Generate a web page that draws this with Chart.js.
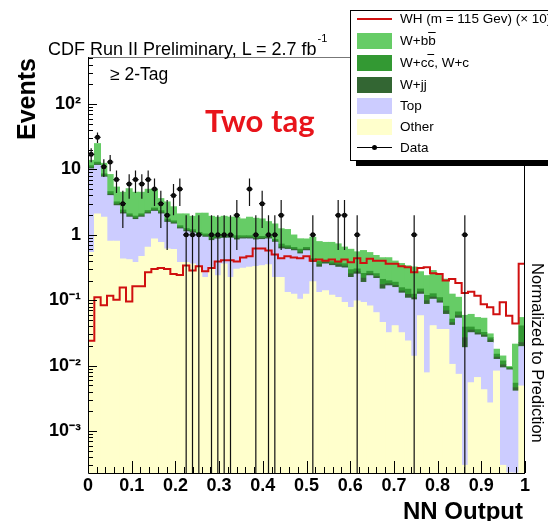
<!DOCTYPE html>
<html>
<head>
<meta charset="utf-8">
<title>NN Output - Two tag</title>
<script src="https://cdn.jsdelivr.net/npm/chart.js@4.4.1/dist/chart.umd.min.js"></script>
<style>
  html, body { margin: 0; padding: 0; background: #fff; }
  #page { position: relative; width: 548px; height: 521px; overflow: hidden;
          font-family: "Liberation Sans", Arial, sans-serif; color: #000; }
  #nnChart { position: absolute; left: 0; top: 0; }
  .txt { position: absolute; white-space: nowrap; line-height: 1; }
  #cdfTitle { left: 48px; top: 33px; font-size: 18px; }
  #cdfTitle .sup { font-size: 11px; vertical-align: 13px; margin-left: 1px; }
  #tagLabel { left: 110px; top: 66px; font-size: 17.5px; }
  #twoTag { left: 205px; top: 105px; font-family: Lato, "Open Sans", sans-serif; font-weight: bold;
            font-size: 31px; color: #e8141b; }
  #yTitle { left: 14px; top: 140px; font-size: 25px; font-weight: bold;
            transform: rotate(-90deg); transform-origin: 0 0; }
  #xTitle { right: 25px; top: 499px; font-size: 24px; font-weight: bold; }
  #normLabel { left: 546px; top: 263px; font-size: 16.5px;
               transform: rotate(90deg); transform-origin: 0 0; }
  #legend { position: absolute; left: 350px; top: 10px; width: 220px; height: 149px;
            border: 1px solid #000; background: #fff; box-shadow: 6px 5px 0 0 #000; }
  #legend .sw { position: absolute; left: 6px; width: 35px; height: 16px; }
  #legend .lab { position: absolute; left: 49px; font-size: 13.5px; line-height: 16px; white-space: nowrap; }
  .ov { text-decoration: overline; }
</style>
</head>
<body>
<div id="page">
  <canvas id="nnChart" width="548" height="521"></canvas>
  <div class="txt" id="cdfTitle">CDF Run II Preliminary, L = 2.7 fb<span class="sup">-1</span></div>
  <div class="txt" id="tagLabel">&ge; 2-Tag</div>
  <div class="txt" id="twoTag">Two tag</div>
  <div class="txt" id="yTitle">Events</div>
  <div class="txt" id="xTitle">NN Output</div>
  <div class="txt" id="normLabel">Normalized to Prediction</div>
  <div id="legend">
    <div class="sw" style="top:7px;height:2px;background:#d01010"></div>
    <div class="lab" style="top:0px">WH (m = 115 Gev) (&times; 10)</div>
    <div class="sw" style="top:22px;background:#66cc66"></div>
    <div class="lab" style="top:22px">W+b<span class="ov">b</span></div>
    <div class="sw" style="top:44px;background:#339933"></div>
    <div class="lab" style="top:44px">W+c<span class="ov">c</span>, W+c</div>
    <div class="sw" style="top:66px;background:#336633"></div>
    <div class="lab" style="top:66px">W+jj</div>
    <div class="sw" style="top:87px;background:#ccccff"></div>
    <div class="lab" style="top:87px">Top</div>
    <div class="sw" style="top:108px;background:#ffffcc"></div>
    <div class="lab" style="top:108px">Other</div>
    <div class="sw" style="top:136px;height:1px;background:#000"></div>
    <div class="sw" style="top:134px;left:21px;width:5px;height:5px;border-radius:50%;background:#000"></div>
    <div class="lab" style="top:129px">Data</div>
  </div>
</div>
<script>
// NN output histogram, 69 bins between 0 and 1
const nBins = 69;

// stacked backgrounds (events per bin)
const otherBkg = [0.54, 2.1, 1.87, 0.8, 0.8, 0.43, 0.42, 0.38, 0.47, 0.65,
  0.87, 0.77, 0.61, 0.6, 0.38, 0.38, 0.36, 0.32, 0.224, 0.32,
  0.238, 0.36, 0.224, 0.30, 0.31, 0.32, 0.33, 0.34, 0.35, 0.224,
  0.224, 0.132, 0.124, 0.104, 0.124, 0.192, 0.132, 0.14, 0.12, 0.111,
  0.093, 0.078, 0.098, 0.093, 0.082, 0.065, 0.046, 0.032, 0.041, 0.032,
  0.024, 0.014, 0.058, 0.0078, 0.041, 0.036, 0.036, 0.0105, 0.0074, 0.0003,
  0.0055, 0.0066, 0.0043, 0.0027, 0.0083, 0.0003, 0.00023, 0.0002, 0.0049];
const topBkg = [9.7, 9.5, 5.8, 3.2, 2.0, 1.67, 1.45, 1.34, 1.4, 1.45,
  1.43, 1.33, 0.95, 0.87, 0.86, 0.74, 0.71, 0.66, 0.70, 0.50,
  0.63, 0.53, 0.67, 0.54, 0.56, 0.55, 0.51, 0.51, 0.52, 0.55,
  0.39, 0.47, 0.45, 0.41, 0.45, 0.19, 0.19, 0.22, 0.22, 0.21,
  0.22, 0.146, 0.154, 0.095, 0.156, 0.151, 0.103, 0.135, 0.116, 0.097,
  0.084, 0.088, 0.066, 0.079, 0.063, 0.055, 0.025, 0.031, 0.046, 0.0186,
  0.0265, 0.023, 0.023, 0.020, 0.0042, 0.009, 0.0084, 0.0039, 0.0147];
const wjj = [0.4, 0.45, 0.3, 0.2, 0.15, 0.1, 0.08, 0.08, 0.08, 0.09,
  0.1, 0.09, 0.07, 0.06, 0.05, 0.05, 0.05, 0.04, 0.04, 0.05,
  0.04, 0.04, 0.04, 0.05, 0.04, 0.04, 0.04, 0.04, 0.04, 0.03,
  0.04, 0.03, 0.03, 0.03, 0.03, 0.02, 0.03, 0.02, 0.02, 0.03,
  0.02, 0.03, 0.02, 0.03, 0.015, 0.015, 0.025, 0.012, 0.012, 0.01,
  0.015, 0.008, 0.01, 0.012, 0.008, 0.007, 0.008, 0.004, 0.005, 0.008,
  0.003, 0.002, 0.002, 0.002, 0.001, 0.001, 0.0003, 0.0005, 0.003];
const wcc = [0.8, 0.9, 0.6, 0.4, 0.25, 0.2, 0.15, 0.14, 0.15, 0.17,
  0.18, 0.16, 0.12, 0.11, 0.09, 0.08, 0.08, 0.07, 0.07, 0.08,
  0.06, 0.06, 0.06, 0.08, 0.06, 0.06, 0.06, 0.06, 0.06, 0.05,
  0.07, 0.05, 0.04, 0.06, 0.04, 0.03, 0.04, 0.03, 0.03, 0.04,
  0.03, 0.04, 0.03, 0.04, 0.025, 0.025, 0.035, 0.02, 0.02, 0.017,
  0.025, 0.014, 0.015, 0.02, 0.014, 0.012, 0.012, 0.006, 0.008, 0.012,
  0.004, 0.004, 0.003, 0.002, 0.0015, 0.0015, 0.0005, 0.0008, 0.018];
const wbb = [2.4, 12, 3.9, 3.8, 2.2, 2.1, 3.0, 2.56, 2.4, 2.64,
  2.42, 1.25, 1.45, 1.06, 0.72, 0.85, 0.73, 1.06, 1.12, 0.98,
  0.9, 0.94, 0.88, 0.9, 0.79, 0.9, 0.86, 0.81, 0.63, 0.62,
  0.52, 0.53, 0.355, 0.27, 0.225, 0.49, 0.40, 0.36, 0.38, 0.34,
  0.29, 0.31, 0.25, 0.32, 0.26, 0.23, 0.24, 0.25, 0.21, 0.21,
  0.19, 0.20, 0.125, 0.12, 0.16, 0.14, 0.13, 0.073, 0.045, 0.02,
  0.022, 0.019, 0.021, 0.004, 0.0029, 0.0023, 0.0003, 0.016, 0.014];

// signal WH (m = 115) x 10
const wh = [0.024, 0.111, 0.084, 0.117, 0.102, 0.157, 0.096, 0.163, 0.163, 0.267,
  0.30, 0.31, 0.30, 0.252, 0.244, 0.34, 0.284, 0.33, 0.277, 0.31,
  0.39, 0.41, 0.41, 0.39, 0.45, 0.47, 0.62, 0.62, 0.575, 0.50,
  0.44, 0.47, 0.45, 0.44, 0.47, 0.40, 0.42, 0.40, 0.42, 0.39,
  0.42, 0.38, 0.44, 0.37, 0.43, 0.40, 0.40, 0.36, 0.36, 0.33,
  0.32, 0.267, 0.31, 0.32, 0.258, 0.252, 0.20, 0.211, 0.184, 0.129,
  0.135, 0.117, 0.087, 0.078, 0.061, 0.093, 0.058, 0.044, 0.36];

// observed events
const dataCounts = [17, 31, 11, 13, 7, 3, 6, 7, 6, 7,
  5, 3, 2, 4, 5, 1, 1, 1, 0, 1,
  1, 1, 1, 2, 0, 5, 1, 3, 1, 1,
  2, 0, 0, 0, 0, 1, 0, 0, 0, 2,
  2, 0, 1, 0, 0, 0, 0, 0, 0, 0,
  0, 1, 0, 0, 0, 0, 0, 0, 0, 1,
  0, 0, 0, 0, 0, 0, 0, 0, 0];

// axes
const xTickValues = [0, 0.1, 0.2, 0.3, 0.4, 0.5, 0.6, 0.7, 0.8, 0.9, 1];
const xTickLabels = ['0', '0.1', '0.2', '0.3', '0.4', '0.5', '0.6', '0.7', '0.8', '0.9', '1'];
const yTickValues = [1e-3, 1e-2, 1e-1, 1, 10, 100];
const yTickLabels = ['10\u207B\u00B3', '10\u207B\u00B2', '10\u207B\u00B9', '1', '10', '10\u00B2'];
const yMin = 2.28e-4;
const yMax = 524;

const binCenter = i => (i + 0.5) / nBins;
const toBars = vals => vals.map((v, i) => ({ x: binCenter(i), y: v }));

// red outline: one point per bin low edge, plus the upper edge of the last bin
const whPoints = wh.map((v, i) => ({ x: i / nBins, y: v }))
  .concat([{ x: 1, y: wh[nBins - 1] }]);
const dataPoints = dataCounts.map((n, i) => ({ x: binCenter(i), y: n > 0 ? n : null }));

// ROOT-like frame with ticks pointing into the plot
const frameTicks = {
  id: 'frameTicks',
  afterDatasetsDraw(chart) {
    const { ctx, chartArea: a, scales: { x, y } } = chart;
    ctx.save();
    ctx.lineWidth = 1;
    ctx.strokeStyle = '#777';
    ctx.beginPath();
    ctx.moveTo(a.left, a.top + 0.5);
    ctx.lineTo(a.right, a.top + 0.5);
    ctx.stroke();
    ctx.strokeStyle = '#000';
    ctx.beginPath();
    ctx.moveTo(a.right - 0.5, a.top);
    ctx.lineTo(a.right - 0.5, a.bottom);
    ctx.moveTo(a.left + 0.5, a.top);
    ctx.lineTo(a.left + 0.5, a.bottom + 0.5);
    ctx.lineTo(a.right, a.bottom + 0.5);
    // y ticks: decades long, 2..9 short
    for (let e = -4; e <= 2; e++) {
      for (let m = 1; m <= 9; m++) {
        const v = m * Math.pow(10, e);
        if (v < y.min || v > y.max) continue;
        const py = Math.round(y.getPixelForValue(v)) + 0.5;
        ctx.moveTo(a.left, py);
        ctx.lineTo(a.left + (m === 1 ? 9 : 5), py);
      }
    }
    // x ticks: every 0.02, long at every 0.1
    for (let k = 0; k <= 50; k++) {
      const px = Math.round(x.getPixelForValue(k / 50)) + 0.5;
      ctx.moveTo(px, a.bottom);
      ctx.lineTo(px, a.bottom - (k % 5 === 0 ? 12 : 6));
    }
    ctx.stroke();
    ctx.restore();
  }
};

// Poisson error bars on the data, horizontal bar over the bin width
const errorBars = {
  id: 'errorBars',
  afterDatasetsDraw(chart) {
    const { ctx, chartArea: a, scales: { x, y } } = chart;
    const half = (x.getPixelForValue(1 / nBins) - x.getPixelForValue(0)) / 2;
    ctx.save();
    ctx.beginPath();
    ctx.rect(a.left, a.top, a.right - a.left, a.bottom - a.top);
    ctx.clip();
    ctx.strokeStyle = '#111';
    ctx.lineWidth = 1.2;
    dataCounts.forEach((n, i) => {
      if (n <= 0) return;
      const err = Math.sqrt(n);
      const px = x.getPixelForValue(binCenter(i));
      const py = y.getPixelForValue(n);
      const hi = y.getPixelForValue(n + err);
      const lo = n - err > y.min ? y.getPixelForValue(n - err) : a.bottom;
      ctx.beginPath();
      ctx.moveTo(px, hi);
      ctx.lineTo(px, lo);
      ctx.moveTo(px - half, py);
      ctx.lineTo(px + half, py);
      ctx.stroke();
    });
    ctx.restore();
  }
};

Chart.defaults.font.family = '"Liberation Sans", Arial, sans-serif';
Chart.defaults.color = '#000';

const tickFont = { size: 18, weight: 'bold' };

new Chart(document.getElementById('nnChart'), {
  type: 'bar',
  data: {
    datasets: [
      { type: 'line', label: 'Data', data: dataPoints, showLine: false, stack: 'data', order: 0,
        pointRadius: 2.5, pointBackgroundColor: '#000', pointBorderColor: '#000', pointBorderWidth: 0 },
      { type: 'line', label: 'WH (m = 115 Gev) (x 10)', data: whPoints, stepped: 'before', stack: 'wh', order: 1,
        borderColor: '#d01010', borderWidth: 2, pointRadius: 0, fill: false },
      { label: 'Other', data: toBars(otherBkg), backgroundColor: '#ffffcc', stack: 'mc', order: 2 },
      { label: 'Top', data: toBars(topBkg), backgroundColor: '#ccccff', stack: 'mc', order: 2 },
      { label: 'W+jj', data: toBars(wjj), backgroundColor: '#336633', stack: 'mc', order: 2 },
      { label: 'W+cc, W+c', data: toBars(wcc), backgroundColor: '#339933', stack: 'mc', order: 2 },
      { label: 'W+bb', data: toBars(wbb), backgroundColor: '#66cc66', stack: 'mc', order: 2 }
    ]
  },
  options: {
    responsive: false,
    animation: false,
    layout: { padding: { left: 0, right: 23, top: 57, bottom: 0 } },
    plugins: { legend: { display: false }, tooltip: { enabled: false } },
    datasets: { bar: { barPercentage: 1, categoryPercentage: 1, borderWidth: 0 } },
    scales: {
      x: {
        type: 'linear', min: 0, max: 1, offset: false, stacked: true,
        grid: { display: false, drawTicks: false }, border: { display: false },
        afterBuildTicks: s => { s.ticks = xTickValues.map(v => ({ value: v })); },
        afterFit: s => { s.height = 48; },
        ticks: { callback: (v, i) => xTickLabels[i], padding: 2, maxRotation: 0, autoSkip: false, font: tickFont }
      },
      y: {
        type: 'logarithmic', min: yMin, max: yMax, stacked: true,
        grid: { display: false, drawTicks: false }, border: { display: false },
        afterBuildTicks: s => { s.ticks = yTickValues.map(v => ({ value: v })); },
        afterFit: s => { s.width = 88; },
        ticks: { callback: (v, i) => yTickLabels[i], padding: 7, autoSkip: false, font: tickFont }
      }
    }
  },
  plugins: [frameTicks, errorBars]
});
</script>
</body>
</html>
